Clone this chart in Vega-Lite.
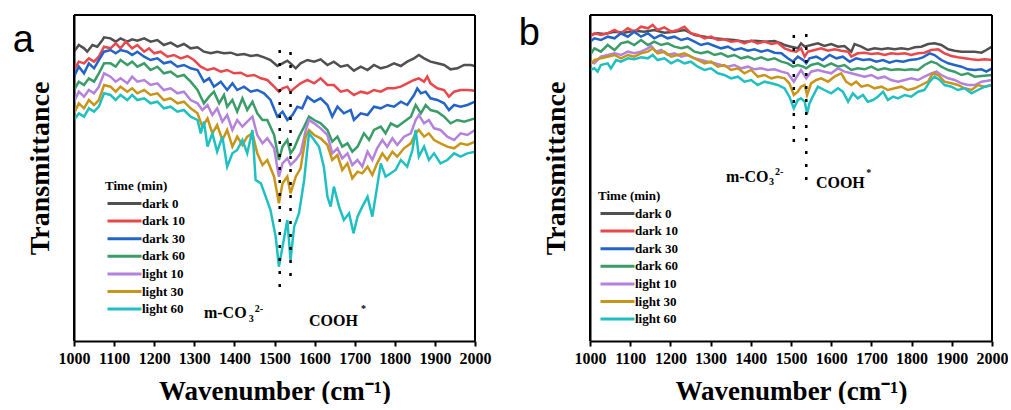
{
"$schema":"https://vega.github.io/schema/vega-lite/v6.json",
"padding":{"left":12,"top":14,"right":0,"bottom":0},
"background":"white",
"bounds":"flush",
"spacing":115,
"config":{
 "view":{"stroke":null},
 "font":"Liberation Serif",
 "axis":{"domainColor":"black","domainWidth":2,"tickColor":"black","tickWidth":2,"labelColor":"black","titleColor":"black","grid":false,"labelFont":"Liberation Serif","titleFont":"Liberation Serif","labelFontWeight":"bold","titleFontWeight":"bold"},
 "legend":{"orient":"none","titleFont":"Liberation Serif","titleFontWeight":"bold","titleFontSize":13,"titleColor":"black","titlePadding":4,"labelFont":"Liberation Serif","labelFontWeight":"bold","labelFontSize":13,"labelColor":"black","symbolType":"M-1,0H7.5","symbolSize":64,"symbolStrokeWidth":3,"labelOffset":24,"rowPadding":3.6,"padding":0}
},
"resolve":{"scale":{"color":"independent"},"legend":{"color":"independent"}},
"datasets":{
"a":[
{"s":"dark 0","w":1000,"v":90.5},{"s":"dark 0","w":1012,"v":92.5},{"s":"dark 0","w":1025,"v":91.5},{"s":"dark 0","w":1033,"v":90.5},{"s":"dark 0","w":1046,"v":92.5},{"s":"dark 0","w":1058,"v":92},{"s":"dark 0","w":1071,"v":94},{"s":"dark 0","w":1075,"v":94.8},{"s":"dark 0","w":1091,"v":94.5},{"s":"dark 0","w":1104,"v":93.5},{"s":"dark 0","w":1116,"v":94.5},{"s":"dark 0","w":1133,"v":93.5},{"s":"dark 0","w":1145,"v":94.2},{"s":"dark 0","w":1158,"v":93.8},{"s":"dark 0","w":1175,"v":94.5},{"s":"dark 0","w":1191,"v":93.5},{"s":"dark 0","w":1208,"v":94},{"s":"dark 0","w":1224,"v":92.5},{"s":"dark 0","w":1241,"v":93.2},{"s":"dark 0","w":1258,"v":92},{"s":"dark 0","w":1274,"v":92.8},{"s":"dark 0","w":1291,"v":91.5},{"s":"dark 0","w":1308,"v":91.8},{"s":"dark 0","w":1324,"v":90.5},{"s":"dark 0","w":1341,"v":90},{"s":"dark 0","w":1357,"v":90.5},{"s":"dark 0","w":1374,"v":90},{"s":"dark 0","w":1391,"v":90.2},{"s":"dark 0","w":1407,"v":89.5},{"s":"dark 0","w":1424,"v":89.8},{"s":"dark 0","w":1441,"v":89.2},{"s":"dark 0","w":1457,"v":89.5},{"s":"dark 0","w":1474,"v":88.8},{"s":"dark 0","w":1490,"v":88},{"s":"dark 0","w":1507,"v":86.2},{"s":"dark 0","w":1520,"v":87},{"s":"dark 0","w":1532,"v":87.8},{"s":"dark 0","w":1540,"v":87},{"s":"dark 0","w":1553,"v":85.5},{"s":"dark 0","w":1565,"v":87},{"s":"dark 0","w":1582,"v":88},{"s":"dark 0","w":1599,"v":87.5},{"s":"dark 0","w":1615,"v":88.2},{"s":"dark 0","w":1632,"v":86.5},{"s":"dark 0","w":1648,"v":87.5},{"s":"dark 0","w":1665,"v":86},{"s":"dark 0","w":1682,"v":86.5},{"s":"dark 0","w":1698,"v":84.8},{"s":"dark 0","w":1715,"v":86},{"s":"dark 0","w":1732,"v":85},{"s":"dark 0","w":1748,"v":86.5},{"s":"dark 0","w":1765,"v":85.5},{"s":"dark 0","w":1781,"v":86},{"s":"dark 0","w":1798,"v":87},{"s":"dark 0","w":1815,"v":86.2},{"s":"dark 0","w":1831,"v":87.5},{"s":"dark 0","w":1848,"v":88.5},{"s":"dark 0","w":1860,"v":89.5},{"s":"dark 0","w":1873,"v":88.5},{"s":"dark 0","w":1889,"v":87.5},{"s":"dark 0","w":1906,"v":87},{"s":"dark 0","w":1923,"v":86.5},{"s":"dark 0","w":1939,"v":85.2},{"s":"dark 0","w":1956,"v":85.5},{"s":"dark 0","w":1973,"v":86.5},{"s":"dark 0","w":1989,"v":86.5},{"s":"dark 0","w":2000,"v":86.2},
{"s":"dark 10","w":1000,"v":85},{"s":"dark 10","w":1012,"v":87.5},{"s":"dark 10","w":1025,"v":87},{"s":"dark 10","w":1037,"v":88.5},{"s":"dark 10","w":1050,"v":87.5},{"s":"dark 10","w":1062,"v":89},{"s":"dark 10","w":1075,"v":92},{"s":"dark 10","w":1091,"v":91.5},{"s":"dark 10","w":1104,"v":93},{"s":"dark 10","w":1116,"v":91.5},{"s":"dark 10","w":1129,"v":93.5},{"s":"dark 10","w":1145,"v":91.5},{"s":"dark 10","w":1158,"v":92.5},{"s":"dark 10","w":1175,"v":90.5},{"s":"dark 10","w":1187,"v":91.5},{"s":"dark 10","w":1200,"v":90},{"s":"dark 10","w":1216,"v":90.5},{"s":"dark 10","w":1233,"v":89},{"s":"dark 10","w":1249,"v":89.5},{"s":"dark 10","w":1266,"v":88.5},{"s":"dark 10","w":1283,"v":89.2},{"s":"dark 10","w":1299,"v":88},{"s":"dark 10","w":1316,"v":86},{"s":"dark 10","w":1333,"v":85},{"s":"dark 10","w":1349,"v":85.5},{"s":"dark 10","w":1366,"v":84.5},{"s":"dark 10","w":1382,"v":85},{"s":"dark 10","w":1399,"v":84},{"s":"dark 10","w":1416,"v":84.2},{"s":"dark 10","w":1432,"v":83.2},{"s":"dark 10","w":1449,"v":83.5},{"s":"dark 10","w":1466,"v":82.5},{"s":"dark 10","w":1482,"v":82},{"s":"dark 10","w":1499,"v":80},{"s":"dark 10","w":1511,"v":78.5},{"s":"dark 10","w":1520,"v":79.5},{"s":"dark 10","w":1532,"v":80},{"s":"dark 10","w":1540,"v":78.5},{"s":"dark 10","w":1549,"v":79.5},{"s":"dark 10","w":1565,"v":81},{"s":"dark 10","w":1582,"v":82},{"s":"dark 10","w":1599,"v":81},{"s":"dark 10","w":1615,"v":82.5},{"s":"dark 10","w":1632,"v":80.5},{"s":"dark 10","w":1648,"v":80.5},{"s":"dark 10","w":1665,"v":78.5},{"s":"dark 10","w":1682,"v":79},{"s":"dark 10","w":1698,"v":77.5},{"s":"dark 10","w":1715,"v":78.5},{"s":"dark 10","w":1732,"v":78},{"s":"dark 10","w":1748,"v":79},{"s":"dark 10","w":1765,"v":78.5},{"s":"dark 10","w":1781,"v":79.5},{"s":"dark 10","w":1798,"v":79.5},{"s":"dark 10","w":1815,"v":80},{"s":"dark 10","w":1831,"v":81},{"s":"dark 10","w":1848,"v":82},{"s":"dark 10","w":1860,"v":82.5},{"s":"dark 10","w":1873,"v":81.5},{"s":"dark 10","w":1881,"v":83},{"s":"dark 10","w":1889,"v":81},{"s":"dark 10","w":1906,"v":79.5},{"s":"dark 10","w":1923,"v":79},{"s":"dark 10","w":1935,"v":77},{"s":"dark 10","w":1948,"v":78.5},{"s":"dark 10","w":1964,"v":79},{"s":"dark 10","w":1981,"v":79},{"s":"dark 10","w":2000,"v":78.8},
{"s":"dark 30","w":1000,"v":83},{"s":"dark 30","w":1012,"v":86},{"s":"dark 30","w":1025,"v":84},{"s":"dark 30","w":1037,"v":87},{"s":"dark 30","w":1050,"v":85.5},{"s":"dark 30","w":1062,"v":88},{"s":"dark 30","w":1075,"v":90.5},{"s":"dark 30","w":1091,"v":91},{"s":"dark 30","w":1104,"v":90},{"s":"dark 30","w":1116,"v":91},{"s":"dark 30","w":1133,"v":90.5},{"s":"dark 30","w":1145,"v":89.5},{"s":"dark 30","w":1158,"v":90.5},{"s":"dark 30","w":1175,"v":89},{"s":"dark 30","w":1191,"v":88},{"s":"dark 30","w":1208,"v":88.5},{"s":"dark 30","w":1224,"v":87},{"s":"dark 30","w":1241,"v":87.5},{"s":"dark 30","w":1258,"v":86},{"s":"dark 30","w":1274,"v":86.5},{"s":"dark 30","w":1291,"v":85.5},{"s":"dark 30","w":1308,"v":85},{"s":"dark 30","w":1324,"v":81.5},{"s":"dark 30","w":1337,"v":82.5},{"s":"dark 30","w":1349,"v":80},{"s":"dark 30","w":1366,"v":81.5},{"s":"dark 30","w":1382,"v":79},{"s":"dark 30","w":1395,"v":81},{"s":"dark 30","w":1407,"v":79},{"s":"dark 30","w":1424,"v":80},{"s":"dark 30","w":1441,"v":78.5},{"s":"dark 30","w":1457,"v":79},{"s":"dark 30","w":1474,"v":78},{"s":"dark 30","w":1490,"v":76},{"s":"dark 30","w":1507,"v":71},{"s":"dark 30","w":1520,"v":72.5},{"s":"dark 30","w":1532,"v":70},{"s":"dark 30","w":1545,"v":71.5},{"s":"dark 30","w":1557,"v":74},{"s":"dark 30","w":1569,"v":73.5},{"s":"dark 30","w":1582,"v":77},{"s":"dark 30","w":1599,"v":75.5},{"s":"dark 30","w":1615,"v":76.5},{"s":"dark 30","w":1632,"v":74.5},{"s":"dark 30","w":1644,"v":71},{"s":"dark 30","w":1657,"v":74},{"s":"dark 30","w":1673,"v":72},{"s":"dark 30","w":1690,"v":73},{"s":"dark 30","w":1698,"v":70},{"s":"dark 30","w":1715,"v":72},{"s":"dark 30","w":1732,"v":71.5},{"s":"dark 30","w":1748,"v":74},{"s":"dark 30","w":1765,"v":73.5},{"s":"dark 30","w":1781,"v":74.5},{"s":"dark 30","w":1798,"v":74},{"s":"dark 30","w":1815,"v":75.5},{"s":"dark 30","w":1831,"v":74.5},{"s":"dark 30","w":1848,"v":77.5},{"s":"dark 30","w":1856,"v":79.5},{"s":"dark 30","w":1865,"v":78},{"s":"dark 30","w":1877,"v":78.5},{"s":"dark 30","w":1889,"v":76.5},{"s":"dark 30","w":1906,"v":76},{"s":"dark 30","w":1923,"v":75},{"s":"dark 30","w":1935,"v":73},{"s":"dark 30","w":1948,"v":74.5},{"s":"dark 30","w":1964,"v":74},{"s":"dark 30","w":1981,"v":74.5},{"s":"dark 30","w":2000,"v":75.5},
{"s":"dark 60","w":1000,"v":79},{"s":"dark 60","w":1012,"v":81.5},{"s":"dark 60","w":1025,"v":80.5},{"s":"dark 60","w":1037,"v":82.5},{"s":"dark 60","w":1050,"v":81.5},{"s":"dark 60","w":1062,"v":84},{"s":"dark 60","w":1075,"v":87},{"s":"dark 60","w":1091,"v":87},{"s":"dark 60","w":1104,"v":86},{"s":"dark 60","w":1116,"v":88},{"s":"dark 60","w":1133,"v":86.5},{"s":"dark 60","w":1145,"v":87.5},{"s":"dark 60","w":1158,"v":86},{"s":"dark 60","w":1175,"v":87},{"s":"dark 60","w":1191,"v":85},{"s":"dark 60","w":1208,"v":86},{"s":"dark 60","w":1224,"v":84},{"s":"dark 60","w":1241,"v":84.5},{"s":"dark 60","w":1258,"v":83},{"s":"dark 60","w":1274,"v":83.5},{"s":"dark 60","w":1291,"v":81.5},{"s":"dark 60","w":1308,"v":79},{"s":"dark 60","w":1324,"v":75},{"s":"dark 60","w":1337,"v":77},{"s":"dark 60","w":1349,"v":78.5},{"s":"dark 60","w":1362,"v":75},{"s":"dark 60","w":1374,"v":77.5},{"s":"dark 60","w":1382,"v":74},{"s":"dark 60","w":1395,"v":76},{"s":"dark 60","w":1407,"v":72.5},{"s":"dark 60","w":1420,"v":76.5},{"s":"dark 60","w":1432,"v":73},{"s":"dark 60","w":1445,"v":75.5},{"s":"dark 60","w":1457,"v":72},{"s":"dark 60","w":1470,"v":70},{"s":"dark 60","w":1482,"v":70},{"s":"dark 60","w":1499,"v":65.5},{"s":"dark 60","w":1511,"v":58},{"s":"dark 60","w":1520,"v":62},{"s":"dark 60","w":1532,"v":64},{"s":"dark 60","w":1540,"v":60},{"s":"dark 60","w":1549,"v":61.5},{"s":"dark 60","w":1561,"v":65},{"s":"dark 60","w":1574,"v":68},{"s":"dark 60","w":1586,"v":71},{"s":"dark 60","w":1599,"v":70},{"s":"dark 60","w":1615,"v":69},{"s":"dark 60","w":1632,"v":67},{"s":"dark 60","w":1644,"v":63.5},{"s":"dark 60","w":1657,"v":65},{"s":"dark 60","w":1669,"v":62},{"s":"dark 60","w":1682,"v":63},{"s":"dark 60","w":1694,"v":60.5},{"s":"dark 60","w":1707,"v":62},{"s":"dark 60","w":1723,"v":66},{"s":"dark 60","w":1736,"v":64},{"s":"dark 60","w":1748,"v":67},{"s":"dark 60","w":1765,"v":68},{"s":"dark 60","w":1777,"v":66},{"s":"dark 60","w":1790,"v":69},{"s":"dark 60","w":1806,"v":68},{"s":"dark 60","w":1823,"v":69.5},{"s":"dark 60","w":1840,"v":71},{"s":"dark 60","w":1852,"v":74.5},{"s":"dark 60","w":1865,"v":72},{"s":"dark 60","w":1877,"v":74.5},{"s":"dark 60","w":1889,"v":73},{"s":"dark 60","w":1906,"v":72.5},{"s":"dark 60","w":1923,"v":71},{"s":"dark 60","w":1939,"v":69},{"s":"dark 60","w":1956,"v":70},{"s":"dark 60","w":1973,"v":69.5},{"s":"dark 60","w":2000,"v":70.5},
{"s":"light 10","w":1000,"v":75.5},{"s":"light 10","w":1012,"v":78.5},{"s":"light 10","w":1025,"v":77},{"s":"light 10","w":1037,"v":79},{"s":"light 10","w":1050,"v":78},{"s":"light 10","w":1062,"v":80},{"s":"light 10","w":1075,"v":84},{"s":"light 10","w":1091,"v":83},{"s":"light 10","w":1104,"v":81.5},{"s":"light 10","w":1116,"v":82.5},{"s":"light 10","w":1133,"v":81},{"s":"light 10","w":1145,"v":83},{"s":"light 10","w":1158,"v":81.5},{"s":"light 10","w":1175,"v":82},{"s":"light 10","w":1191,"v":80.5},{"s":"light 10","w":1208,"v":81},{"s":"light 10","w":1224,"v":79},{"s":"light 10","w":1241,"v":79.5},{"s":"light 10","w":1258,"v":78},{"s":"light 10","w":1274,"v":78.5},{"s":"light 10","w":1291,"v":76},{"s":"light 10","w":1308,"v":75},{"s":"light 10","w":1320,"v":73},{"s":"light 10","w":1333,"v":74.5},{"s":"light 10","w":1345,"v":71.5},{"s":"light 10","w":1357,"v":73.5},{"s":"light 10","w":1370,"v":69.5},{"s":"light 10","w":1382,"v":71.5},{"s":"light 10","w":1395,"v":67},{"s":"light 10","w":1407,"v":70},{"s":"light 10","w":1420,"v":68},{"s":"light 10","w":1432,"v":69.5},{"s":"light 10","w":1445,"v":71},{"s":"light 10","w":1457,"v":65.5},{"s":"light 10","w":1470,"v":63},{"s":"light 10","w":1482,"v":64.5},{"s":"light 10","w":1499,"v":61.5},{"s":"light 10","w":1511,"v":53},{"s":"light 10","w":1520,"v":57},{"s":"light 10","w":1532,"v":58.5},{"s":"light 10","w":1540,"v":56.5},{"s":"light 10","w":1553,"v":58},{"s":"light 10","w":1565,"v":60},{"s":"light 10","w":1578,"v":67},{"s":"light 10","w":1586,"v":70},{"s":"light 10","w":1599,"v":69},{"s":"light 10","w":1615,"v":67.5},{"s":"light 10","w":1632,"v":65.5},{"s":"light 10","w":1644,"v":60},{"s":"light 10","w":1657,"v":61.5},{"s":"light 10","w":1669,"v":58.5},{"s":"light 10","w":1682,"v":60},{"s":"light 10","w":1694,"v":56.5},{"s":"light 10","w":1707,"v":58},{"s":"light 10","w":1719,"v":56},{"s":"light 10","w":1732,"v":60.5},{"s":"light 10","w":1744,"v":58},{"s":"light 10","w":1756,"v":61.5},{"s":"light 10","w":1769,"v":64},{"s":"light 10","w":1781,"v":62},{"s":"light 10","w":1794,"v":64.5},{"s":"light 10","w":1806,"v":62.5},{"s":"light 10","w":1823,"v":65},{"s":"light 10","w":1840,"v":66},{"s":"light 10","w":1852,"v":70},{"s":"light 10","w":1860,"v":71.5},{"s":"light 10","w":1873,"v":69},{"s":"light 10","w":1885,"v":70},{"s":"light 10","w":1898,"v":67.5},{"s":"light 10","w":1914,"v":67},{"s":"light 10","w":1931,"v":65},{"s":"light 10","w":1948,"v":64},{"s":"light 10","w":1964,"v":66},{"s":"light 10","w":1981,"v":65.5},{"s":"light 10","w":2000,"v":67},
{"s":"light 30","w":1000,"v":72},{"s":"light 30","w":1012,"v":75},{"s":"light 30","w":1025,"v":73.5},{"s":"light 30","w":1037,"v":76},{"s":"light 30","w":1050,"v":74.5},{"s":"light 30","w":1062,"v":76},{"s":"light 30","w":1075,"v":80.5},{"s":"light 30","w":1091,"v":80},{"s":"light 30","w":1104,"v":78.5},{"s":"light 30","w":1116,"v":80},{"s":"light 30","w":1133,"v":78.5},{"s":"light 30","w":1145,"v":79.5},{"s":"light 30","w":1158,"v":78},{"s":"light 30","w":1175,"v":79},{"s":"light 30","w":1191,"v":77.5},{"s":"light 30","w":1208,"v":78},{"s":"light 30","w":1224,"v":76},{"s":"light 30","w":1241,"v":76.5},{"s":"light 30","w":1258,"v":75},{"s":"light 30","w":1274,"v":75.5},{"s":"light 30","w":1291,"v":73.5},{"s":"light 30","w":1308,"v":72},{"s":"light 30","w":1320,"v":68},{"s":"light 30","w":1333,"v":70.5},{"s":"light 30","w":1345,"v":66},{"s":"light 30","w":1357,"v":68.5},{"s":"light 30","w":1370,"v":64},{"s":"light 30","w":1382,"v":67},{"s":"light 30","w":1395,"v":62},{"s":"light 30","w":1407,"v":65},{"s":"light 30","w":1420,"v":62.5},{"s":"light 30","w":1432,"v":65},{"s":"light 30","w":1445,"v":66},{"s":"light 30","w":1457,"v":60},{"s":"light 30","w":1470,"v":56.5},{"s":"light 30","w":1482,"v":58},{"s":"light 30","w":1499,"v":53},{"s":"light 30","w":1511,"v":45},{"s":"light 30","w":1520,"v":51},{"s":"light 30","w":1532,"v":53},{"s":"light 30","w":1540,"v":48},{"s":"light 30","w":1553,"v":53},{"s":"light 30","w":1565,"v":55.5},{"s":"light 30","w":1578,"v":65},{"s":"light 30","w":1586,"v":67},{"s":"light 30","w":1599,"v":65.5},{"s":"light 30","w":1615,"v":64.5},{"s":"light 30","w":1632,"v":62.5},{"s":"light 30","w":1644,"v":58},{"s":"light 30","w":1657,"v":59.5},{"s":"light 30","w":1669,"v":55},{"s":"light 30","w":1682,"v":57},{"s":"light 30","w":1694,"v":52.5},{"s":"light 30","w":1707,"v":54.5},{"s":"light 30","w":1719,"v":54},{"s":"light 30","w":1732,"v":56},{"s":"light 30","w":1744,"v":53.5},{"s":"light 30","w":1756,"v":57},{"s":"light 30","w":1769,"v":60},{"s":"light 30","w":1781,"v":58},{"s":"light 30","w":1794,"v":60.5},{"s":"light 30","w":1806,"v":59},{"s":"light 30","w":1823,"v":61.5},{"s":"light 30","w":1840,"v":63},{"s":"light 30","w":1852,"v":66},{"s":"light 30","w":1860,"v":67},{"s":"light 30","w":1873,"v":65},{"s":"light 30","w":1885,"v":66},{"s":"light 30","w":1898,"v":64},{"s":"light 30","w":1914,"v":63},{"s":"light 30","w":1931,"v":62},{"s":"light 30","w":1948,"v":61.5},{"s":"light 30","w":1964,"v":63},{"s":"light 30","w":1981,"v":62.5},{"s":"light 30","w":2000,"v":63.5},
{"s":"light 60","w":1000,"v":70},{"s":"light 60","w":1012,"v":72},{"s":"light 60","w":1025,"v":71},{"s":"light 60","w":1037,"v":73.5},{"s":"light 60","w":1050,"v":72.5},{"s":"light 60","w":1062,"v":74},{"s":"light 60","w":1075,"v":78},{"s":"light 60","w":1091,"v":77.5},{"s":"light 60","w":1104,"v":76},{"s":"light 60","w":1116,"v":77.5},{"s":"light 60","w":1133,"v":76},{"s":"light 60","w":1145,"v":77.5},{"s":"light 60","w":1158,"v":76},{"s":"light 60","w":1175,"v":76.5},{"s":"light 60","w":1191,"v":75},{"s":"light 60","w":1208,"v":75.5},{"s":"light 60","w":1224,"v":73.5},{"s":"light 60","w":1241,"v":74},{"s":"light 60","w":1258,"v":72.5},{"s":"light 60","w":1274,"v":73},{"s":"light 60","w":1291,"v":71},{"s":"light 60","w":1308,"v":70},{"s":"light 60","w":1316,"v":66},{"s":"light 60","w":1324,"v":69.5},{"s":"light 60","w":1333,"v":62},{"s":"light 60","w":1345,"v":66},{"s":"light 60","w":1357,"v":60.5},{"s":"light 60","w":1370,"v":65},{"s":"light 60","w":1382,"v":56},{"s":"light 60","w":1395,"v":60},{"s":"light 60","w":1407,"v":61},{"s":"light 60","w":1420,"v":64},{"s":"light 60","w":1432,"v":60},{"s":"light 60","w":1445,"v":67},{"s":"light 60","w":1453,"v":52},{"s":"light 60","w":1466,"v":51},{"s":"light 60","w":1478,"v":47},{"s":"light 60","w":1490,"v":43},{"s":"light 60","w":1503,"v":35},{"s":"light 60","w":1511,"v":26},{"s":"light 60","w":1520,"v":32},{"s":"light 60","w":1532,"v":40},{"s":"light 60","w":1540,"v":28},{"s":"light 60","w":1549,"v":38},{"s":"light 60","w":1561,"v":42},{"s":"light 60","w":1574,"v":52},{"s":"light 60","w":1586,"v":66},{"s":"light 60","w":1599,"v":64},{"s":"light 60","w":1611,"v":62},{"s":"light 60","w":1623,"v":56},{"s":"light 60","w":1632,"v":47},{"s":"light 60","w":1640,"v":44},{"s":"light 60","w":1648,"v":50},{"s":"light 60","w":1661,"v":44},{"s":"light 60","w":1673,"v":40},{"s":"light 60","w":1686,"v":42},{"s":"light 60","w":1697,"v":36},{"s":"light 60","w":1707,"v":41},{"s":"light 60","w":1719,"v":44},{"s":"light 60","w":1732,"v":47},{"s":"light 60","w":1744,"v":41},{"s":"light 60","w":1756,"v":50},{"s":"light 60","w":1765,"v":57},{"s":"light 60","w":1777,"v":53},{"s":"light 60","w":1790,"v":54},{"s":"light 60","w":1802,"v":55},{"s":"light 60","w":1815,"v":58},{"s":"light 60","w":1831,"v":56},{"s":"light 60","w":1844,"v":61},{"s":"light 60","w":1852,"v":67},{"s":"light 60","w":1860,"v":59},{"s":"light 60","w":1873,"v":62},{"s":"light 60","w":1885,"v":58},{"s":"light 60","w":1898,"v":60},{"s":"light 60","w":1914,"v":57},{"s":"light 60","w":1931,"v":58},{"s":"light 60","w":1948,"v":60},{"s":"light 60","w":1964,"v":59},{"s":"light 60","w":1981,"v":60},{"s":"light 60","w":2000,"v":60.5}
],
"b":[
{"s":"dark 0","w":1000,"v":95.5},{"s":"dark 0","w":1019,"v":96},{"s":"dark 0","w":1036,"v":95.8},{"s":"dark 0","w":1061,"v":96.5},{"s":"dark 0","w":1085,"v":96.2},{"s":"dark 0","w":1110,"v":96.8},{"s":"dark 0","w":1135,"v":96.5},{"s":"dark 0","w":1160,"v":97},{"s":"dark 0","w":1185,"v":96.2},{"s":"dark 0","w":1210,"v":96.5},{"s":"dark 0","w":1235,"v":97},{"s":"dark 0","w":1260,"v":95.5},{"s":"dark 0","w":1285,"v":95},{"s":"dark 0","w":1310,"v":94.5},{"s":"dark 0","w":1334,"v":94.2},{"s":"dark 0","w":1359,"v":94},{"s":"dark 0","w":1384,"v":93.5},{"s":"dark 0","w":1409,"v":93.8},{"s":"dark 0","w":1434,"v":93.5},{"s":"dark 0","w":1459,"v":93.7},{"s":"dark 0","w":1476,"v":93},{"s":"dark 0","w":1484,"v":92.5},{"s":"dark 0","w":1500,"v":92},{"s":"dark 0","w":1517,"v":91.5},{"s":"dark 0","w":1525,"v":93},{"s":"dark 0","w":1534,"v":92},{"s":"dark 0","w":1550,"v":92.5},{"s":"dark 0","w":1567,"v":93},{"s":"dark 0","w":1583,"v":92.2},{"s":"dark 0","w":1600,"v":92.8},{"s":"dark 0","w":1617,"v":92},{"s":"dark 0","w":1633,"v":92.2},{"s":"dark 0","w":1650,"v":90.5},{"s":"dark 0","w":1658,"v":92.8},{"s":"dark 0","w":1675,"v":92},{"s":"dark 0","w":1691,"v":91},{"s":"dark 0","w":1708,"v":91.5},{"s":"dark 0","w":1725,"v":91.2},{"s":"dark 0","w":1741,"v":91.5},{"s":"dark 0","w":1758,"v":91.2},{"s":"dark 0","w":1774,"v":91.5},{"s":"dark 0","w":1791,"v":91.2},{"s":"dark 0","w":1808,"v":91.8},{"s":"dark 0","w":1824,"v":92},{"s":"dark 0","w":1841,"v":92.8},{"s":"dark 0","w":1857,"v":93},{"s":"dark 0","w":1874,"v":92.5},{"s":"dark 0","w":1891,"v":91.2},{"s":"dark 0","w":1907,"v":90.8},{"s":"dark 0","w":1924,"v":90.5},{"s":"dark 0","w":1940,"v":90.5},{"s":"dark 0","w":1957,"v":90.5},{"s":"dark 0","w":1974,"v":90.2},{"s":"dark 0","w":1986,"v":91},{"s":"dark 0","w":2000,"v":92},
{"s":"dark 10","w":1000,"v":95},{"s":"dark 10","w":1011,"v":96},{"s":"dark 10","w":1027,"v":95.5},{"s":"dark 10","w":1044,"v":96},{"s":"dark 10","w":1061,"v":97},{"s":"dark 10","w":1077,"v":96},{"s":"dark 10","w":1094,"v":97.5},{"s":"dark 10","w":1110,"v":96.5},{"s":"dark 10","w":1127,"v":98},{"s":"dark 10","w":1144,"v":97.5},{"s":"dark 10","w":1156,"v":98.5},{"s":"dark 10","w":1168,"v":97},{"s":"dark 10","w":1185,"v":97.8},{"s":"dark 10","w":1202,"v":96.5},{"s":"dark 10","w":1218,"v":97},{"s":"dark 10","w":1235,"v":98},{"s":"dark 10","w":1251,"v":96},{"s":"dark 10","w":1268,"v":95.5},{"s":"dark 10","w":1285,"v":94.5},{"s":"dark 10","w":1301,"v":95},{"s":"dark 10","w":1318,"v":94},{"s":"dark 10","w":1334,"v":94.2},{"s":"dark 10","w":1351,"v":93.5},{"s":"dark 10","w":1368,"v":93.8},{"s":"dark 10","w":1384,"v":93},{"s":"dark 10","w":1401,"v":93.8},{"s":"dark 10","w":1417,"v":93},{"s":"dark 10","w":1434,"v":93.5},{"s":"dark 10","w":1451,"v":92.8},{"s":"dark 10","w":1467,"v":93.2},{"s":"dark 10","w":1484,"v":91.5},{"s":"dark 10","w":1500,"v":90.8},{"s":"dark 10","w":1513,"v":90.5},{"s":"dark 10","w":1525,"v":91.5},{"s":"dark 10","w":1534,"v":89},{"s":"dark 10","w":1542,"v":90.5},{"s":"dark 10","w":1559,"v":91},{"s":"dark 10","w":1575,"v":91.5},{"s":"dark 10","w":1592,"v":90.8},{"s":"dark 10","w":1608,"v":91.2},{"s":"dark 10","w":1625,"v":90.8},{"s":"dark 10","w":1642,"v":90.5},{"s":"dark 10","w":1650,"v":89},{"s":"dark 10","w":1666,"v":90},{"s":"dark 10","w":1683,"v":90.2},{"s":"dark 10","w":1700,"v":89.8},{"s":"dark 10","w":1716,"v":90},{"s":"dark 10","w":1733,"v":89.5},{"s":"dark 10","w":1749,"v":90},{"s":"dark 10","w":1766,"v":89.8},{"s":"dark 10","w":1783,"v":90},{"s":"dark 10","w":1799,"v":89.5},{"s":"dark 10","w":1816,"v":90},{"s":"dark 10","w":1832,"v":90.2},{"s":"dark 10","w":1849,"v":91},{"s":"dark 10","w":1866,"v":91.2},{"s":"dark 10","w":1882,"v":90},{"s":"dark 10","w":1899,"v":89.2},{"s":"dark 10","w":1915,"v":88.8},{"s":"dark 10","w":1932,"v":88.5},{"s":"dark 10","w":1949,"v":88.2},{"s":"dark 10","w":1965,"v":88},{"s":"dark 10","w":1982,"v":88.2},{"s":"dark 10","w":2000,"v":88},
{"s":"dark 30","w":1000,"v":93.5},{"s":"dark 30","w":1011,"v":94.5},{"s":"dark 30","w":1027,"v":94},{"s":"dark 30","w":1044,"v":95},{"s":"dark 30","w":1061,"v":94.5},{"s":"dark 30","w":1077,"v":96},{"s":"dark 30","w":1094,"v":95},{"s":"dark 30","w":1110,"v":96.5},{"s":"dark 30","w":1127,"v":95},{"s":"dark 30","w":1144,"v":96},{"s":"dark 30","w":1160,"v":94.5},{"s":"dark 30","w":1177,"v":95.5},{"s":"dark 30","w":1193,"v":94.5},{"s":"dark 30","w":1210,"v":95},{"s":"dark 30","w":1227,"v":94},{"s":"dark 30","w":1243,"v":94.5},{"s":"dark 30","w":1260,"v":93.5},{"s":"dark 30","w":1276,"v":92.5},{"s":"dark 30","w":1293,"v":93},{"s":"dark 30","w":1310,"v":92.2},{"s":"dark 30","w":1326,"v":91.5},{"s":"dark 30","w":1343,"v":92},{"s":"dark 30","w":1359,"v":91},{"s":"dark 30","w":1376,"v":91.5},{"s":"dark 30","w":1393,"v":90.8},{"s":"dark 30","w":1409,"v":91.2},{"s":"dark 30","w":1426,"v":90.5},{"s":"dark 30","w":1442,"v":91},{"s":"dark 30","w":1459,"v":90.2},{"s":"dark 30","w":1476,"v":90},{"s":"dark 30","w":1492,"v":88.5},{"s":"dark 30","w":1505,"v":87.5},{"s":"dark 30","w":1517,"v":89},{"s":"dark 30","w":1530,"v":88},{"s":"dark 30","w":1538,"v":87},{"s":"dark 30","w":1546,"v":88.5},{"s":"dark 30","w":1563,"v":89},{"s":"dark 30","w":1579,"v":88},{"s":"dark 30","w":1596,"v":89.5},{"s":"dark 30","w":1613,"v":88.5},{"s":"dark 30","w":1629,"v":89},{"s":"dark 30","w":1646,"v":87.5},{"s":"dark 30","w":1662,"v":88.5},{"s":"dark 30","w":1679,"v":88},{"s":"dark 30","w":1696,"v":88.2},{"s":"dark 30","w":1712,"v":87.5},{"s":"dark 30","w":1729,"v":88},{"s":"dark 30","w":1745,"v":87.2},{"s":"dark 30","w":1762,"v":87.8},{"s":"dark 30","w":1779,"v":87.5},{"s":"dark 30","w":1795,"v":88},{"s":"dark 30","w":1812,"v":88.2},{"s":"dark 30","w":1828,"v":88.8},{"s":"dark 30","w":1845,"v":90},{"s":"dark 30","w":1857,"v":89.5},{"s":"dark 30","w":1874,"v":88},{"s":"dark 30","w":1891,"v":87},{"s":"dark 30","w":1907,"v":86.5},{"s":"dark 30","w":1924,"v":86},{"s":"dark 30","w":1940,"v":85.2},{"s":"dark 30","w":1957,"v":85},{"s":"dark 30","w":1974,"v":85.2},{"s":"dark 30","w":1986,"v":84.5},{"s":"dark 30","w":2000,"v":85.5},
{"s":"dark 60","w":1000,"v":89.5},{"s":"dark 60","w":1011,"v":91.5},{"s":"dark 60","w":1027,"v":90.5},{"s":"dark 60","w":1044,"v":92.5},{"s":"dark 60","w":1061,"v":91},{"s":"dark 60","w":1077,"v":93},{"s":"dark 60","w":1094,"v":93.5},{"s":"dark 60","w":1110,"v":92.5},{"s":"dark 60","w":1127,"v":94},{"s":"dark 60","w":1144,"v":92.5},{"s":"dark 60","w":1160,"v":93.5},{"s":"dark 60","w":1177,"v":92.5},{"s":"dark 60","w":1193,"v":93},{"s":"dark 60","w":1210,"v":92},{"s":"dark 60","w":1227,"v":91.5},{"s":"dark 60","w":1243,"v":92},{"s":"dark 60","w":1260,"v":90.5},{"s":"dark 60","w":1276,"v":90},{"s":"dark 60","w":1293,"v":90.5},{"s":"dark 60","w":1310,"v":89.5},{"s":"dark 60","w":1326,"v":90},{"s":"dark 60","w":1343,"v":89},{"s":"dark 60","w":1359,"v":89.5},{"s":"dark 60","w":1376,"v":88.5},{"s":"dark 60","w":1393,"v":89},{"s":"dark 60","w":1409,"v":88.2},{"s":"dark 60","w":1426,"v":88.8},{"s":"dark 60","w":1442,"v":88},{"s":"dark 60","w":1459,"v":88.5},{"s":"dark 60","w":1476,"v":87.5},{"s":"dark 60","w":1492,"v":87},{"s":"dark 60","w":1505,"v":86},{"s":"dark 60","w":1517,"v":86.5},{"s":"dark 60","w":1530,"v":86},{"s":"dark 60","w":1538,"v":85.5},{"s":"dark 60","w":1550,"v":86.5},{"s":"dark 60","w":1567,"v":87},{"s":"dark 60","w":1583,"v":86},{"s":"dark 60","w":1600,"v":87},{"s":"dark 60","w":1617,"v":86},{"s":"dark 60","w":1633,"v":86.5},{"s":"dark 60","w":1650,"v":85},{"s":"dark 60","w":1666,"v":85.5},{"s":"dark 60","w":1683,"v":85.2},{"s":"dark 60","w":1700,"v":86},{"s":"dark 60","w":1716,"v":85},{"s":"dark 60","w":1733,"v":85.5},{"s":"dark 60","w":1749,"v":85},{"s":"dark 60","w":1766,"v":85.2},{"s":"dark 60","w":1783,"v":85},{"s":"dark 60","w":1799,"v":85.2},{"s":"dark 60","w":1816,"v":85},{"s":"dark 60","w":1832,"v":86.5},{"s":"dark 60","w":1849,"v":87.5},{"s":"dark 60","w":1862,"v":87},{"s":"dark 60","w":1874,"v":86},{"s":"dark 60","w":1891,"v":85},{"s":"dark 60","w":1907,"v":84.5},{"s":"dark 60","w":1924,"v":83.5},{"s":"dark 60","w":1940,"v":84},{"s":"dark 60","w":1957,"v":83},{"s":"dark 60","w":1974,"v":83.2},{"s":"dark 60","w":2000,"v":83.5},
{"s":"light 10","w":1000,"v":87.5},{"s":"light 10","w":1011,"v":87},{"s":"light 10","w":1027,"v":89},{"s":"light 10","w":1044,"v":89.5},{"s":"light 10","w":1061,"v":90},{"s":"light 10","w":1077,"v":89.5},{"s":"light 10","w":1094,"v":90.5},{"s":"light 10","w":1110,"v":90},{"s":"light 10","w":1127,"v":90.5},{"s":"light 10","w":1144,"v":91.5},{"s":"light 10","w":1152,"v":92.2},{"s":"light 10","w":1164,"v":90.5},{"s":"light 10","w":1177,"v":91},{"s":"light 10","w":1193,"v":89.5},{"s":"light 10","w":1210,"v":90},{"s":"light 10","w":1227,"v":89},{"s":"light 10","w":1243,"v":89.5},{"s":"light 10","w":1260,"v":88.5},{"s":"light 10","w":1276,"v":88},{"s":"light 10","w":1293,"v":87.5},{"s":"light 10","w":1310,"v":87},{"s":"light 10","w":1326,"v":86.5},{"s":"light 10","w":1343,"v":86},{"s":"light 10","w":1359,"v":86.5},{"s":"light 10","w":1376,"v":85.5},{"s":"light 10","w":1393,"v":86},{"s":"light 10","w":1409,"v":85.2},{"s":"light 10","w":1426,"v":85.5},{"s":"light 10","w":1442,"v":85},{"s":"light 10","w":1459,"v":85.2},{"s":"light 10","w":1476,"v":84.5},{"s":"light 10","w":1492,"v":84},{"s":"light 10","w":1507,"v":81.5},{"s":"light 10","w":1517,"v":83.5},{"s":"light 10","w":1525,"v":85},{"s":"light 10","w":1538,"v":82.5},{"s":"light 10","w":1550,"v":84.5},{"s":"light 10","w":1567,"v":85},{"s":"light 10","w":1583,"v":84.5},{"s":"light 10","w":1600,"v":84},{"s":"light 10","w":1617,"v":85.5},{"s":"light 10","w":1633,"v":84.5},{"s":"light 10","w":1650,"v":84},{"s":"light 10","w":1666,"v":83.5},{"s":"light 10","w":1683,"v":83},{"s":"light 10","w":1700,"v":83.5},{"s":"light 10","w":1716,"v":82.5},{"s":"light 10","w":1733,"v":83},{"s":"light 10","w":1749,"v":82},{"s":"light 10","w":1766,"v":81.5},{"s":"light 10","w":1783,"v":82},{"s":"light 10","w":1799,"v":82.5},{"s":"light 10","w":1816,"v":82},{"s":"light 10","w":1832,"v":83},{"s":"light 10","w":1849,"v":84},{"s":"light 10","w":1862,"v":84.5},{"s":"light 10","w":1874,"v":83.5},{"s":"light 10","w":1891,"v":82.5},{"s":"light 10","w":1907,"v":82},{"s":"light 10","w":1924,"v":81},{"s":"light 10","w":1940,"v":80.5},{"s":"light 10","w":1957,"v":80.5},{"s":"light 10","w":1974,"v":81.5},{"s":"light 10","w":2000,"v":82},
{"s":"light 30","w":1000,"v":86.5},{"s":"light 30","w":1011,"v":88},{"s":"light 30","w":1027,"v":88.5},{"s":"light 30","w":1044,"v":89},{"s":"light 30","w":1061,"v":89.5},{"s":"light 30","w":1077,"v":88.5},{"s":"light 30","w":1094,"v":89.5},{"s":"light 30","w":1110,"v":89},{"s":"light 30","w":1127,"v":90},{"s":"light 30","w":1144,"v":90.5},{"s":"light 30","w":1156,"v":91.5},{"s":"light 30","w":1168,"v":90},{"s":"light 30","w":1185,"v":90.5},{"s":"light 30","w":1202,"v":89},{"s":"light 30","w":1218,"v":89.5},{"s":"light 30","w":1235,"v":90},{"s":"light 30","w":1251,"v":89},{"s":"light 30","w":1268,"v":88},{"s":"light 30","w":1285,"v":87},{"s":"light 30","w":1301,"v":87.5},{"s":"light 30","w":1318,"v":86},{"s":"light 30","w":1334,"v":86.5},{"s":"light 30","w":1351,"v":85},{"s":"light 30","w":1368,"v":85.5},{"s":"light 30","w":1384,"v":84},{"s":"light 30","w":1401,"v":85},{"s":"light 30","w":1417,"v":83},{"s":"light 30","w":1434,"v":83.5},{"s":"light 30","w":1451,"v":82.5},{"s":"light 30","w":1467,"v":83},{"s":"light 30","w":1484,"v":82.5},{"s":"light 30","w":1496,"v":81},{"s":"light 30","w":1507,"v":77.5},{"s":"light 30","w":1517,"v":78.5},{"s":"light 30","w":1525,"v":80},{"s":"light 30","w":1534,"v":80.5},{"s":"light 30","w":1540,"v":77.5},{"s":"light 30","w":1550,"v":81},{"s":"light 30","w":1563,"v":82},{"s":"light 30","w":1575,"v":82.5},{"s":"light 30","w":1592,"v":81.5},{"s":"light 30","w":1608,"v":83},{"s":"light 30","w":1625,"v":84},{"s":"light 30","w":1637,"v":81.5},{"s":"light 30","w":1650,"v":80.5},{"s":"light 30","w":1662,"v":81.5},{"s":"light 30","w":1675,"v":80},{"s":"light 30","w":1691,"v":80.5},{"s":"light 30","w":1708,"v":79.5},{"s":"light 30","w":1725,"v":80},{"s":"light 30","w":1741,"v":79},{"s":"light 30","w":1758,"v":79.5},{"s":"light 30","w":1774,"v":80},{"s":"light 30","w":1791,"v":79},{"s":"light 30","w":1808,"v":79.5},{"s":"light 30","w":1824,"v":80.5},{"s":"light 30","w":1841,"v":81.5},{"s":"light 30","w":1853,"v":84},{"s":"light 30","w":1866,"v":83.5},{"s":"light 30","w":1882,"v":81.5},{"s":"light 30","w":1899,"v":81},{"s":"light 30","w":1915,"v":80.5},{"s":"light 30","w":1932,"v":79.5},{"s":"light 30","w":1949,"v":79},{"s":"light 30","w":1965,"v":80.5},{"s":"light 30","w":1982,"v":80},{"s":"light 30","w":2000,"v":80.5},
{"s":"light 60","w":1000,"v":85},{"s":"light 60","w":1011,"v":85.5},{"s":"light 60","w":1019,"v":84.5},{"s":"light 60","w":1027,"v":86.5},{"s":"light 60","w":1044,"v":87},{"s":"light 60","w":1052,"v":85.5},{"s":"light 60","w":1065,"v":88},{"s":"light 60","w":1077,"v":87.5},{"s":"light 60","w":1094,"v":88.5},{"s":"light 60","w":1110,"v":88.2},{"s":"light 60","w":1127,"v":88.8},{"s":"light 60","w":1144,"v":88.5},{"s":"light 60","w":1156,"v":89.5},{"s":"light 60","w":1168,"v":88},{"s":"light 60","w":1185,"v":88.5},{"s":"light 60","w":1202,"v":87},{"s":"light 60","w":1218,"v":88},{"s":"light 60","w":1235,"v":87},{"s":"light 60","w":1251,"v":87.5},{"s":"light 60","w":1268,"v":86},{"s":"light 60","w":1285,"v":85},{"s":"light 60","w":1301,"v":85.5},{"s":"light 60","w":1318,"v":84},{"s":"light 60","w":1334,"v":83.5},{"s":"light 60","w":1351,"v":82.5},{"s":"light 60","w":1368,"v":83},{"s":"light 60","w":1384,"v":81.5},{"s":"light 60","w":1401,"v":82},{"s":"light 60","w":1417,"v":80.5},{"s":"light 60","w":1434,"v":81.5},{"s":"light 60","w":1451,"v":81},{"s":"light 60","w":1467,"v":80.5},{"s":"light 60","w":1484,"v":79.5},{"s":"light 60","w":1496,"v":77},{"s":"light 60","w":1507,"v":73.5},{"s":"light 60","w":1517,"v":76},{"s":"light 60","w":1525,"v":76.5},{"s":"light 60","w":1534,"v":75.5},{"s":"light 60","w":1540,"v":72},{"s":"light 60","w":1546,"v":75},{"s":"light 60","w":1554,"v":77},{"s":"light 60","w":1567,"v":80},{"s":"light 60","w":1583,"v":79},{"s":"light 60","w":1600,"v":78},{"s":"light 60","w":1617,"v":79.5},{"s":"light 60","w":1629,"v":78.5},{"s":"light 60","w":1642,"v":75.5},{"s":"light 60","w":1654,"v":78},{"s":"light 60","w":1666,"v":76.5},{"s":"light 60","w":1679,"v":77.5},{"s":"light 60","w":1691,"v":75.5},{"s":"light 60","w":1704,"v":76},{"s":"light 60","w":1716,"v":77},{"s":"light 60","w":1729,"v":78.5},{"s":"light 60","w":1741,"v":76},{"s":"light 60","w":1754,"v":77},{"s":"light 60","w":1766,"v":76.5},{"s":"light 60","w":1783,"v":77.5},{"s":"light 60","w":1799,"v":77},{"s":"light 60","w":1816,"v":78.5},{"s":"light 60","w":1832,"v":79},{"s":"light 60","w":1845,"v":81.5},{"s":"light 60","w":1857,"v":83},{"s":"light 60","w":1870,"v":82},{"s":"light 60","w":1882,"v":80.5},{"s":"light 60","w":1899,"v":80},{"s":"light 60","w":1915,"v":79},{"s":"light 60","w":1932,"v":79.5},{"s":"light 60","w":1949,"v":78},{"s":"light 60","w":1965,"v":79},{"s":"light 60","w":1982,"v":80},{"s":"light 60","w":2000,"v":80.5}
]
},
"hconcat":[
{
 "width":401,"height":326,
 "layer":[
  {"data":{"name":"a"},"mark":{"type":"line","strokeWidth":2.5},
   "encoding":{
    "x":{"field":"w","type":"quantitative","scale":{"domain":[1000,2000],"nice":false,"zero":false},
      "axis":{"values":[1000,1050,1100,1150,1200,1250,1300,1350,1400,1450,1500,1550,1600,1650,1700,1750,1800,1850,1900,1950,2000],"format":"d","labelExpr":"datum.value % 100 === 0 ? datum.label : ''","tickSize":{"condition":{"test":"datum.value % 100 === 0","value":5},"value":3},"labelFontSize":16,"labelPadding":4,"labelFlush":false,"labelOverlap":false,"title":"Wavenumber (cm⁻¹)","titleFontSize":27,"titlePadding":12}},
    "y":{"field":"v","type":"quantitative","scale":{"domain":[3.7,101.5],"nice":false,"zero":false},
      "axis":{"title":"Transmittance","labels":false,"ticks":false,"domain":true,"titleFontSize":28,"titlePadding":26,"titleBaseline":"alphabetic","titleY":153}},
    "color":{"field":"s","type":"nominal","scale":{"domain":["dark 0","dark 10","dark 30","dark 60","light 10","light 30","light 60"],"range":["#505050","#e8474b","#2364c8","#3a9d69","#b482dc","#c8951a","#20c0c2"]},
      "legend":{"title":"Time (min)","legendX":31,"legendY":165}}
   }},
  {"data":{"values":[{"w":1000,"v0":3.7,"v1":101.5},{"w":2000,"v0":3.7,"v1":101.5}]},
   "mark":{"type":"rule","strokeDash":[2000,1],"strokeWidth":2,"color":"black"},
   "encoding":{"x":{"field":"w","type":"quantitative"},"y":{"field":"v0","type":"quantitative"},"y2":{"field":"v1"}}},
  {"data":{"values":[{"w0":1000,"w1":2000,"v":101.5}]},
   "mark":{"type":"rule","strokeDash":[2000,1],"strokeWidth":2,"color":"black"},
   "encoding":{"x":{"field":"w0","type":"quantitative"},"x2":{"field":"w1"},"y":{"field":"v","type":"quantitative"}}},
  {"data":{"values":[{"t":"a"}]},"mark":{"type":"text","align":"left","baseline":"alphabetic","fontSize":38,"font":"Liberation Sans","color":"black","clip":false},
   "encoding":{"x":{"datum":847,"type":"quantitative"},"y":{"datum":90.4,"type":"quantitative"},"text":{"field":"t"}}},
  {"data":{"values":[{"w":1513,"v0":91,"v1":19},{"w":1540,"v0":90.4,"v1":22.6}]},
   "mark":{"type":"rule","strokeDash":[3,10],"strokeWidth":2.5,"color":"black"},
   "encoding":{"x":{"field":"w","type":"quantitative"},"y":{"field":"v0","type":"quantitative"},"y2":{"field":"v1"}}},
  {"data":{"values":[{"t":"m-CO","w":1324,"v":10.6},{"t":"COOH","w":1586,"v":8.2}]},
   "mark":{"type":"text","align":"left","baseline":"alphabetic","fontSize":16,"fontWeight":"bold","font":"Liberation Serif","color":"black"},
   "encoding":{"x":{"field":"w","type":"quantitative"},"y":{"field":"v","type":"quantitative"},"text":{"field":"t"}}},
  {"data":{"values":[{"t":"3","w":1436,"v":9.4},{"t":"2-","w":1451,"v":12.4},{"t":"*","w":1716,"v":12.4}]},
   "mark":{"type":"text","align":"left","baseline":"alphabetic","fontSize":10,"fontWeight":"bold","font":"Liberation Serif","color":"black"},
   "encoding":{"x":{"field":"w","type":"quantitative"},"y":{"field":"v","type":"quantitative"},"text":{"field":"t"}}}
 ]
},
{
 "width":402,"height":326,
 "layer":[
  {"data":{"name":"b"},"mark":{"type":"line","strokeWidth":2.5},
   "encoding":{
    "x":{"field":"w","type":"quantitative","scale":{"domain":[1000,2000],"nice":false,"zero":false},
      "axis":{"values":[1000,1050,1100,1150,1200,1250,1300,1350,1400,1450,1500,1550,1600,1650,1700,1750,1800,1850,1900,1950,2000],"format":"d","labelExpr":"datum.value % 100 === 0 ? datum.label : ''","tickSize":{"condition":{"test":"datum.value % 100 === 0","value":5},"value":3},"labelFontSize":16,"labelPadding":4,"labelFlush":false,"labelOverlap":false,"title":"Wavenumber (cm⁻¹)","titleFontSize":27,"titlePadding":12}},
    "y":{"field":"v","type":"quantitative","scale":{"domain":[3.7,101.5],"nice":false,"zero":false},
      "axis":{"title":"Transmittance","labels":false,"ticks":false,"domain":true,"titleFontSize":28,"titlePadding":26,"titleBaseline":"alphabetic","titleY":153}},
    "color":{"field":"s","type":"nominal","scale":{"domain":["dark 0","dark 10","dark 30","dark 60","light 10","light 30","light 60"],"range":["#505050","#e8474b","#2364c8","#3a9d69","#b482dc","#c8951a","#20c0c2"]},
      "legend":{"title":"Time (min)","legendX":8,"legendY":175}}
   }},
  {"data":{"values":[{"w":1000,"v0":3.7,"v1":101.5},{"w":2000,"v0":3.7,"v1":101.5}]},
   "mark":{"type":"rule","strokeDash":[2000,1],"strokeWidth":2,"color":"black"},
   "encoding":{"x":{"field":"w","type":"quantitative"},"y":{"field":"v0","type":"quantitative"},"y2":{"field":"v1"}}},
  {"data":{"values":[{"w0":1000,"w1":2000,"v":101.5}]},
   "mark":{"type":"rule","strokeDash":[2000,1],"strokeWidth":2,"color":"black"},
   "encoding":{"x":{"field":"w0","type":"quantitative"},"x2":{"field":"w1"},"y":{"field":"v","type":"quantitative"}}},
  {"data":{"values":[{"t":"b"}]},"mark":{"type":"text","align":"left","baseline":"alphabetic","fontSize":38,"font":"Liberation Sans","color":"black","clip":false},
   "encoding":{"x":{"datum":823,"type":"quantitative"},"y":{"datum":92.5,"type":"quantitative"},"text":{"field":"t"}}},
  {"data":{"values":[{"w":1507,"v0":95.5,"v1":62.5},{"w":1538,"v0":95.8,"v1":51}]},
   "mark":{"type":"rule","strokeDash":[3,10],"strokeWidth":2.5,"color":"black"},
   "encoding":{"x":{"field":"w","type":"quantitative"},"y":{"field":"v0","type":"quantitative"},"y2":{"field":"v1"}}},
  {"data":{"values":[{"t":"m-CO","w":1338,"v":51.4},{"t":"COOH","w":1562,"v":49.6}]},
   "mark":{"type":"text","align":"left","baseline":"alphabetic","fontSize":16,"fontWeight":"bold","font":"Liberation Serif","color":"black"},
   "encoding":{"x":{"field":"w","type":"quantitative"},"y":{"field":"v","type":"quantitative"},"text":{"field":"t"}}},
  {"data":{"values":[{"t":"3","w":1445,"v":50.5},{"t":"2-","w":1460,"v":53.5},{"t":"*","w":1687,"v":53.2}]},
   "mark":{"type":"text","align":"left","baseline":"alphabetic","fontSize":10,"fontWeight":"bold","font":"Liberation Serif","color":"black"},
   "encoding":{"x":{"field":"w","type":"quantitative"},"y":{"field":"v","type":"quantitative"},"text":{"field":"t"}}}
 ]
}
]
}
